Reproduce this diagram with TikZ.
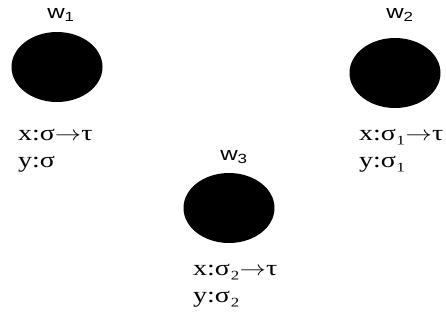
\documentclass[tikz,border=0pt]{standalone}
\usepackage{fontspec}
\usepackage{graphicx}
\setmainfont{Liberation Serif}
\newfontfamily\wfont{Liberation Sans}
\usetikzlibrary{shapes.geometric}
\newcommand{\wide}[1]{\scalebox{1.27}[1]{#1}}
\newcommand{\arr}{$\rightarrow$}

\begin{document}
\begin{tikzpicture}[x=1pt,y=-1pt,
  world/.style={ellipse, fill=black, minimum width=91pt, minimum height=70pt, inner sep=0pt},
  wl/.style={font=\wfont\fontsize{19}{19}\selectfont, inner sep=0pt},
  tp/.style={font=\fontsize{22}{27}\selectfont, align=left, anchor=north west, inner sep=0pt}]
  \useasboundingbox (0,0) rectangle (446,324);
  % worlds
  \node[world] (w1) at (57,67) {};
  \node[world] (w2) at (395,73) {};
  \node[world] (w3) at (229,208) {};
  \node[wl] (l1) at (61,15) {\wide{w\textsubscript{1}}};
  \node[wl] (l2) at (400,15) {\wide{w\textsubscript{2}}};
  \node[wl] (l3) at (234,157) {\wide{w\textsubscript{3}}};
  % types
  \node[tp] (t1) at (18,129) {\wide{x:σ\arr τ}\\\wide{y:σ}};
  \node[tp] (t2) at (359,129) {\wide{x:σ₁\arr τ}\\\wide{y:σ₁}};
  \node[tp] (t3) at (193,264) {\wide{x:σ₂\arr τ}\\\wide{y:σ₂}};
\end{tikzpicture}
\end{document}
